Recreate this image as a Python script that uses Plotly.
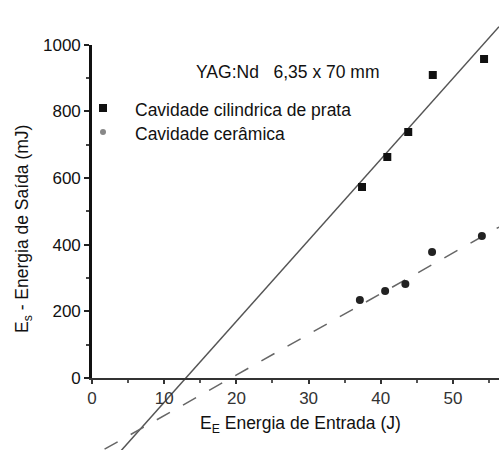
import plotly.graph_objects as go
import numpy as np

# Measured points: silver cylindrical cavity (squares) and ceramic cavity (circles)
prata_x = [37.4, 40.9, 43.8, 47.2, 54.3]
prata_y = [573, 663, 738, 909, 957]
ceramica_x = [37.1, 40.6, 43.4, 47.1, 54.0]
ceramica_y = [234, 261, 282, 378, 426]

# Linear fits: slope (mJ/J) and threshold energy (J) where output is zero
prata_slope, prata_threshold = 24.3, 13.0
ceramica_slope, ceramica_threshold = 12.2, 19.25

x_ticks = [0, 10, 20, 30, 40, 50]
y_ticks = [0, 200, 400, 600, 800, 1000]

legend_labels = ["Cavidade cilindrica de prata", "Cavidade cerâmica"]

W, H = 499, 450
X_MIN, X_MAX = -12.74, 56.37
Y_MIN, Y_MAX = -216, 1134

FONT = "Liberation Sans"
TXT = 17.5
fit_x = np.array([X_MIN, X_MAX])


def px(x):
    return x / W


def py(y):
    return 1 - y / H


def label(text, x, y, angle=0, xanchor="center"):
    fig.add_annotation(text=text, xref="paper", yref="paper", x=px(x), y=py(y),
                       xanchor=xanchor, yanchor="middle", textangle=angle,
                       showarrow=False, font=dict(size=TXT, family=FONT))


fig = go.Figure()

fig.add_trace(go.Scatter(
    x=fit_x, y=prata_slope * (fit_x - prata_threshold), mode="lines",
    line=dict(color="#555555", width=1.5), showlegend=False, hoverinfo="skip"))
fig.add_trace(go.Scatter(
    x=fit_x, y=ceramica_slope * (fit_x - ceramica_threshold), mode="lines",
    line=dict(color="#666666", width=1.5, dash="longdash"), showlegend=False,
    hoverinfo="skip"))

fig.add_trace(go.Scatter(
    x=prata_x, y=prata_y, mode="markers", name=legend_labels[0], showlegend=False,
    marker=dict(symbol="square", size=8, color="#111111")))
fig.add_trace(go.Scatter(
    x=ceramica_x, y=ceramica_y, mode="markers", name=legend_labels[1], showlegend=False,
    marker=dict(symbol="circle", size=8, color="#222222")))

# empty trace so the visible axis pair is rendered
fig.add_trace(go.Scatter(x=[None], y=[None], xaxis="x2", yaxis="y2",
                         showlegend=False, hoverinfo="skip"))

# visible axes: origin placed where x=0 and y=0 fall on the full plot
x0_frac = (0 - X_MIN) / (X_MAX - X_MIN)
y0_frac = (0 - Y_MIN) / (Y_MAX - Y_MIN)
y1000_frac = (1000 - Y_MIN) / (Y_MAX - Y_MIN)

fig.update_layout(
    width=W, height=H,
    margin=dict(l=0, r=0, t=0, b=0, autoexpand=False),
    paper_bgcolor="white", plot_bgcolor="rgba(0,0,0,0)",
    font=dict(family=FONT, color="#111111"),
    showlegend=False,
    xaxis=dict(domain=[0, 1], range=[X_MIN, X_MAX], visible=False),
    yaxis=dict(domain=[0, 1], range=[Y_MIN, Y_MAX], visible=False),
    xaxis2=dict(domain=[x0_frac, 1], range=[0, X_MAX], anchor="y2",
                showgrid=False, zeroline=False, showline=True,
                linecolor="#333333", linewidth=2,
                tickvals=x_ticks, ticks="outside", ticklen=4, tickwidth=1.5,
                tickcolor="#333333", ticklabelstandoff=0,
                minor=dict(dtick=5, ticks="outside", ticklen=3, tickcolor="#555555"),
                tickfont=dict(size=17, color="#333333", family=FONT)),
    yaxis2=dict(domain=[y0_frac, y1000_frac], range=[0, 1000], anchor="x2",
                showgrid=False, zeroline=False, showline=True,
                linecolor="#111111", linewidth=2.5,
                tickvals=y_ticks, ticks="outside", ticklen=5, tickwidth=1.5,
                tickcolor="#222222",
                minor=dict(dtick=100, ticks="outside", ticklen=3, tickcolor="#444444"),
                tickfont=dict(size=17, color="#111111", family=FONT)),
)

# legend glyphs and labels
fig.add_shape(type="rect", xref="paper", yref="paper",
              x0=px(99), x1=px(107), y0=py(112), y1=py(104),
              fillcolor="#111111", line=dict(width=0))
fig.add_shape(type="circle", xref="paper", yref="paper",
              x0=px(100), x1=px(106), y0=py(135), y1=py(129),
              fillcolor="#888888", line=dict(width=0))
label(legend_labels[0], 133, 110, xanchor="left")
label(legend_labels[1], 133, 134, xanchor="left")

label("YAG:Nd&nbsp;&nbsp;&nbsp;6,35 x 70 mm", 288, 72)
label("E<sub>E</sub> Energia de Entrada (J)", 300, 424)
label("E<sub>s</sub> - Energia de Saída (mJ)", 24, 229, angle=-90)

fig.write_html("out.html")
